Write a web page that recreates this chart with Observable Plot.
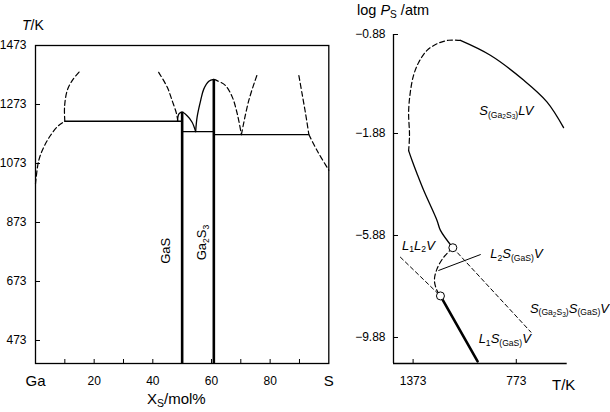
<!DOCTYPE html>
<html><head><meta charset="utf-8">
<script src="https://cdn.jsdelivr.net/npm/d3@7"></script>
<script src="https://cdn.jsdelivr.net/npm/@observablehq/plot@0.6"></script>
<style>
body{margin:0;background:#fff;font-family:"Liberation Sans",Arial,sans-serif;}
#wrap{position:relative;width:610px;height:412px;overflow:hidden;background:#fff;}
#left,#right{position:absolute;top:0;}
#left{left:0}
#right{left:340px}
#wrap svg{overflow:visible;}
.lab{position:absolute;font-size:14px;color:#000;white-space:nowrap;line-height:1;}
.lab sub{font-size:70%;vertical-align:-0.25em;line-height:0;}
</style></head><body>
<div id="wrap">
<div id="left"></div><div id="right"></div>
<div class="lab" style="left:22px;top:18px"><i>T</i>/K</div>
<div class="lab" style="left:147px;top:391px;font-size:15px">X<sub>S</sub>/mol%</div>
<div class="lab" style="left:357px;top:3px;font-size:14.5px">log <i>P</i><sub>S</sub> /atm</div>
<div class="lab" style="left:552px;top:377px;font-size:15px">T/K</div>
</div>
<script>
// ---------- LEFT PANEL: T–x phase diagram (x: mol% S, y: T/K) ----------
const xDomainLeft = [0, 100];
const yDomainLeft = [395, 1473];
const yTicksLeft = [473, 673, 873, 1073, 1273, 1473];
const xMinorTicksLeft = [10, 20, 30, 40, 50, 60, 70, 80, 90];
const xNumTicksLeft = [20, 40, 60, 80];
const xEndTicksLeft = [0, 100];
const xEndLabelsLeft = ["Ga", "S"];

// dashed liquidus / miscibility curves [x, T]
const liqGaSide   = [[0,1004],[1.1,1083],[2.8,1128],[5.1,1168],[7.9,1202],[10,1216]];
const missGapL    = [[10,1216],[9.9,1264],[10.8,1320],[12.5,1354],[15.3,1388]];
const missGapR    = [[42.0,1382],[44.9,1332],[46.6,1286],[48.1,1241],[48.5,1218]];
const liqGa2S3R   = [[60.8,1358],[61.9,1354],[64.8,1337],[67.1,1298],[68.8,1241],[70.2,1171]];
const liqVRight   = [[70.2,1171],[72.7,1286],[75.6,1375]];
const missGapS    = [[89.8,1371],[90.9,1309],[92.1,1241],[93.2,1171]];
const liqSSide    = [[93.2,1171],[96.0,1117],[99.7,1055],[100,1050]];
// solid liquidus curves
const liqGaS      = [[48.4,1216],[48.9,1241],[50,1247],[51.7,1235],[53.4,1213],[54.6,1181]];
const liqGa2S3L   = [[54.6,1181],[55.1,1230],[56.3,1286],[57.4,1326],[59.1,1352],[60.8,1358]];
// invariant horizontal lines [x1, x2, T]
const invariants  = [[10,50,1216],[50,60.8,1181],[60.8,93.2,1171]];
// compounds [name, x, top T]
const compounds   = [["GaS",50,1247],["Ga2S3",60.8,1358]];
// compound labels [x, T, parts]
const compoundLabels = [
  [44.3, 777, [["GaS",0,0]]],
  [56.6, 805, [["Ga",0,0],["2",1,0],["S",0,0],["3",1,0]]]
];

// ---------- RIGHT PANEL: log Ps vs T ----------
const xDomainRight = [1487, 477];
const xTicksRight = [1373, 773];
const yDomainRight = [-0.88, -1.88, -10.9];
const yTicksRight = [-0.88, -1.88, -5.88, -9.88];

const pSolidHigh  = [[1098,-0.94],[924,-1.09],[731,-1.34],[595,-1.56],[498,-1.82]];
const pLoopDash   = [[1098,-0.94],[1166,-0.938],[1234,-0.974],[1292,-1.04],[1340,-1.16],[1370,-1.29],[1389,-1.46],[1399,-1.66],[1394,-1.96],[1399,-2.55]];
const pLoopSolid  = [[1399,-2.55],[1379,-2.94],[1350,-3.46],[1311,-4.12],[1234,-5.29],[1214,-5.68],[1142,-6.36]];
const pBulgeDash  = [[1142,-6.36],[1195,-6.73],[1234,-7.19],[1249,-7.64],[1234,-8.04],[1214,-8.25]];
const pThreePhase = [[1142,-6.36],[688,-9.67]];
const pL1L2V      = [[1447,-6.73],[1214,-8.25]];
const pL1SGaS     = [[1214,-8.25],[998,-10.82]];
const pLeader     = [[1224,-7.25],[982,-6.63]];
const pInvariant  = [[1142,-6.36],[1214,-8.25]];
// region labels [T, logP, parts]  parts: [text, level, italic]
const regionLabels = [
  [988, -1.648, [["S",0,1],["(Ga",1,0],["2",2,0],["S",1,0],["3",2,0],[")",1,0],["LV",0,1]]],
  [1437, -6.27, [["L",0,1],["1",1,0],["L",0,1],["2",1,0],["V",0,1]]],
  [924, -6.59, [["L",0,1],["2",1,0],["S",0,1],["(GaS)",1,0],["V",0,1]]],
  [694, -8.74, [["S",0,1],["(Ga",1,0],["2",2,0],["S",1,0],["3",2,0],[")",1,0],["S",0,1],["(GaS)",1,0],["V",0,1]]],
  [992, -9.92, [["L",0,1],["1",1,0],["S",0,1],["(GaS)",1,0],["V",0,1]]]
];

const FONT = "'Liberation Sans', Arial, sans-serif";
const toRows = (name, pts) => pts.map(([x, y]) => ({name, x, y}));

function richify(svg, items, baseSize) {
  const texts = svg.querySelectorAll('g[aria-label="text"] text');
  const sizes = [baseSize, baseSize * 0.66, baseSize * 0.5];
  const offs = [0, baseSize * 0.22, baseSize * 0.36];
  texts.forEach((t, i) => {
    if (!items[i]) return;
    const parts = items[i][2];
    while (t.firstChild) t.removeChild(t.firstChild);
    let cur = 0;
    for (const [s, lvl, it] of parts) {
      const ts = document.createElementNS("http://www.w3.org/2000/svg", "tspan");
      ts.textContent = s;
      ts.setAttribute("font-size", sizes[lvl]);
      if (it) ts.setAttribute("font-style", "italic");
      const d = offs[lvl] - cur;
      if (d !== 0) ts.setAttribute("dy", d);
      cur = offs[lvl];
      t.appendChild(ts);
    }
  });
}

// left rows
const dashedLeft = [
  ...toRows("a", liqGaSide), ...toRows("b", missGapL), ...toRows("c", missGapR),
  ...toRows("d", liqGa2S3R), ...toRows("e", liqVRight), ...toRows("f", missGapS), ...toRows("g", liqSSide)
];
const solidLeft = [...toRows("h", liqGaS), ...toRows("i", liqGa2S3L)];

const left = Plot.plot({
  width: 340, height: 412,
  marginLeft: 35, marginRight: 11.7, marginTop: 45, marginBottom: 49,
  style: {fontFamily: FONT, fontSize: "12px", background: "transparent"},
  x: {domain: xDomainLeft},
  y: {domain: yDomainLeft},
  marks: [
    Plot.line(dashedLeft, {x: "x", y: "y", z: "name", curve: "catmull-rom", stroke: "black", strokeWidth: 1.2, strokeDasharray: "5,3"}),
    Plot.line(solidLeft, {x: "x", y: "y", z: "name", curve: "catmull-rom", stroke: "black", strokeWidth: 1.3}),
    Plot.ruleY(invariants, {x1: d => d[0], x2: d => d[1], y: d => d[2], stroke: "black", strokeWidth: 1.4}),
    Plot.ruleX(compounds, {x: d => d[1], y1: yDomainLeft[0], y2: d => d[2], stroke: "black", strokeWidth: 2.6}),
    Plot.frame({stroke: "black", strokeWidth: 1.3}),
    Plot.axisY(yTicksLeft, {tickSize: -5, tickPadding: 14, fontSize: 12, label: null, tickFormat: d => String(d)}),
    Plot.axisX(xMinorTicksLeft, {tickSize: -4, tickFormat: () => "", label: null}),
    Plot.axisX(xNumTicksLeft, {tickSize: 0, tickPadding: 13, fontSize: 12, label: null, tickFormat: d => String(d)}),
    Plot.axisX(xEndTicksLeft, {tickSize: 0, tickPadding: 12, fontSize: 15, tickFormat: d => xEndLabelsLeft[xEndTicksLeft.indexOf(d)], label: null}),
    Plot.text(compoundLabels, {x: d => d[0], y: d => d[1], text: d => d[2].map(p => p[0]).join(""), rotate: -90, fontSize: 13, fill: "black"})
  ]
});
richify(left, compoundLabels, 13);
document.getElementById("left").appendChild(left);

// right rows
const dashedRight = [...toRows("a", pLoopDash), ...toRows("b", pBulgeDash)];
const dashedStraight = [...toRows("c", pThreePhase), ...toRows("d", pL1L2V)];
const solidRight = [...toRows("e", pSolidHigh), ...toRows("f", pLoopSolid)];

const right = Plot.plot({
  width: 270, height: 412,
  marginLeft: 53, marginRight: 43.3, marginTop: 34, marginBottom: 49,
  style: {fontFamily: FONT, fontSize: "12px", background: "transparent"},
  x: {domain: xDomainRight},
  y: {type: "linear", domain: yDomainRight, range: [34, 133, 363]},
  marks: [
    Plot.ruleX([xDomainRight[0]], {stroke: "black", strokeWidth: 1.3}),
    Plot.ruleY([yDomainRight[yDomainRight.length - 1]], {stroke: "black", strokeWidth: 1.3}),
    Plot.axisY(yTicksRight, {tickSize: -5, tickPadding: 13, fontSize: 12, label: null, tickFormat: d => d.toFixed(2).replace("-", "\u2212")}),
    Plot.axisX(xTicksRight, {tickSize: -4, tickPadding: 17, fontSize: 12, label: null, tickFormat: d => String(d)}),
    Plot.line(dashedRight, {x: "x", y: "y", z: "name", curve: "catmull-rom", stroke: "black", strokeWidth: 1.2, strokeDasharray: "5,3"}),
    Plot.line(dashedStraight, {x: "x", y: "y", z: "name", stroke: "black", strokeWidth: 1, strokeDasharray: "4,3"}),
    Plot.line(solidRight, {x: "x", y: "y", z: "name", curve: "catmull-rom", stroke: "black", strokeWidth: 1.3}),
    Plot.line(pL1SGaS, {x: d => d[0], y: d => d[1], stroke: "black", strokeWidth: 2.6}),
    Plot.line(pLeader, {x: d => d[0], y: d => d[1], stroke: "black", strokeWidth: 1}),
    Plot.dot(pInvariant, {x: d => d[0], y: d => d[1], r: 4, fill: "white", stroke: "black", strokeWidth: 1}),
    Plot.text(regionLabels, {x: d => d[0], y: d => d[1], text: d => d[2].map(p => p[0]).join(""), textAnchor: "start", fontSize: 13, fill: "black"})
  ]
});
richify(right, regionLabels, 13);
document.getElementById("right").appendChild(right);
</script>
</body></html>
